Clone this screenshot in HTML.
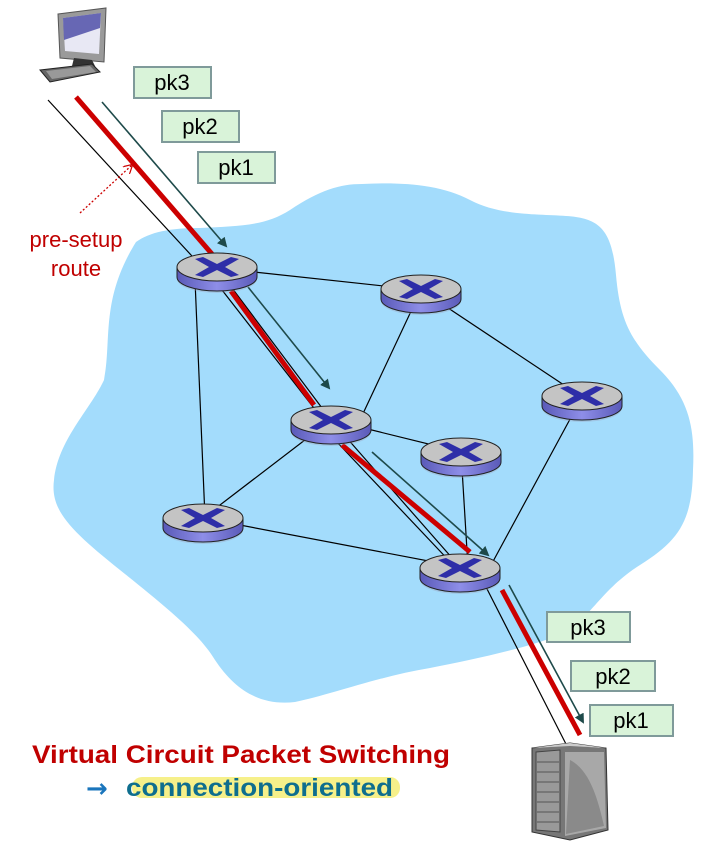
<!DOCTYPE html>
<html><head><meta charset="utf-8"><style>
html,body{margin:0;padding:0;background:#fff;}
svg{display:block;}
</style></head><body>
<svg width="707" height="843" viewBox="0 0 707 843" xmlns="http://www.w3.org/2000/svg">
<defs>
<linearGradient id="side" x1="0" x2="1" y1="0" y2="0">
<stop offset="0" stop-color="#5a5ab8"/><stop offset="0.5" stop-color="#8e8ee8"/><stop offset="1" stop-color="#5a5ab8"/>
</linearGradient>
<g id="rt">
<ellipse cx="0" cy="12" rx="40" ry="14" fill="#9a9ab8" opacity="0.35"/>
<path d="M-40 0 L-40 10 A40 14 0 0 0 40 10 L40 0 Z" fill="url(#side)" stroke="#222" stroke-width="1"/>
<ellipse cx="0" cy="0" rx="40" ry="14" fill="#c4c4c4" stroke="#222" stroke-width="1"/>
<g fill="#2e2ea8">
<polygon points="-22,-8 -14,-10 0,-3 14,-10 22,-8 8,0 22,8 14,10 0,3 -14,10 -22,8 -8,0"/>
</g>
</g>
<marker id="ah" markerWidth="10" markerHeight="10" refX="8" refY="5" orient="auto" markerUnits="userSpaceOnUse">
<path d="M0,0 L10,5 L0,10 Z" fill="#1e4a4a"/>
</marker>
<marker id="ah2" markerWidth="10" markerHeight="10" refX="8" refY="5" orient="auto" markerUnits="userSpaceOnUse">
<path d="M0,0 L9,5 L0,10" fill="none" stroke="#c00" stroke-width="1.2"/>
</marker>
</defs>
<path d="M136,242 C150,232 170,228 200,228 C240,226 265,226 290,210 C320,190 340,184 362,184 C400,182 440,184 470,200 C500,216 540,214 566,216 C600,218 612,230 616,275 C620,320 630,340 660,370 C690,400 695,430 693,470 C692,520 680,540 640,565 C600,590 590,620 560,635 C520,650 470,660 430,668 C380,676 330,695 295,702 C260,706 235,690 215,660 C200,635 170,610 120,570 C70,530 50,510 54,480 C58,440 90,410 104,380 C112,340 100,300 136,242 Z" fill="#a3dcfc"/>
<g stroke="#000" stroke-width="1.2" fill="none">
<line x1="217" y1="268" x2="421" y2="290"/>
<line x1="217" y1="268" x2="331" y2="420"/>
<line x1="195" y1="280" x2="205" y2="518"/>
<line x1="421" y1="290" x2="360" y2="420"/>
<line x1="421" y1="290" x2="582" y2="397"/>
<line x1="582" y1="397" x2="490" y2="567"/>
<line x1="331" y1="420" x2="461" y2="452"/>
<line x1="331" y1="420" x2="203" y2="518"/>
<line x1="331" y1="420" x2="460" y2="567"/>
<line x1="461" y1="452" x2="468" y2="567"/>
<line x1="203" y1="518" x2="460" y2="567"/>
<line x1="48" y1="100" x2="203" y2="268"/>
<line x1="222" y1="290" x2="331" y2="430"/>
<line x1="335" y1="440" x2="455" y2="567"/>
<line x1="485" y1="585" x2="568" y2="748"/>
</g>
<g stroke="#1e4a4a" stroke-width="1.6" fill="none" marker-end="url(#ah)">
<line x1="102" y1="102" x2="226" y2="246"/>
<line x1="248" y1="287" x2="329" y2="388"/>
<line x1="372" y1="452" x2="488" y2="555"/>
<line x1="509" y1="585" x2="583" y2="722"/>
</g>
<g stroke="#cc0000" stroke-width="5" fill="none">
<line x1="76" y1="97" x2="212" y2="254"/>
<line x1="231" y1="291" x2="314" y2="405"/>
<line x1="342" y1="445" x2="470" y2="552"/>
<line x1="502" y1="590" x2="580" y2="735"/>
</g>
<use href="#rt" x="217" y="267"/>
<use href="#rt" x="421" y="289"/>
<use href="#rt" x="582" y="396"/>
<use href="#rt" x="331" y="420"/>
<use href="#rt" x="461" y="452"/>
<use href="#rt" x="203" y="518"/>
<use href="#rt" x="460" y="568"/>
<line x1="80" y1="213" x2="132" y2="165" stroke="#c00" stroke-width="1.3" stroke-dasharray="2,2" marker-end="url(#ah2)"/>
<!-- computer -->
<g>
<polygon points="58,14 106,8 104,62 60,58" fill="#9a9a9a" stroke="#555"/>
<polygon points="63,18 101,13 99,54 65,51" fill="#e8e8f4"/>
<polygon points="63,18 101,13 100,28 64,40" fill="#5050a8" opacity="0.85"/>
<polygon points="74,58 92,60 96,68 72,66" fill="#333"/>
<polygon points="40,70 92,64 100,72 50,82" fill="#666" stroke="#222"/>
<polygon points="46,71 90,66 96,72 52,79" fill="#999"/>
</g>
<!-- server -->
<g>
<polygon points="532,748 570,743 606,748 608,830 570,840 532,832" fill="#777" stroke="#333"/>
<polygon points="536,752 560,750 560,832 536,830" fill="#999" stroke="#444"/>
<g stroke="#555" stroke-width="1">
<line x1="537" y1="762" x2="559" y2="762"/><line x1="537" y1="772" x2="559" y2="772"/>
<line x1="537" y1="782" x2="559" y2="782"/><line x1="537" y1="792" x2="559" y2="792"/>
<line x1="537" y1="802" x2="559" y2="802"/><line x1="537" y1="812" x2="559" y2="812"/>
<line x1="537" y1="822" x2="559" y2="822"/>
</g>
<polygon points="565,752 604,752 606,828 565,836" fill="#a8a8a8"/>
<path d="M570,760 C590,770 598,800 604,826 L566,834 Z" fill="#8a8a8a"/>
<polygon points="532,748 570,743 606,748 570,746" fill="#ccc"/>
</g>
<g font-family="Liberation Sans, sans-serif" font-size="22" fill="#000">
<rect x="134" y="67" width="77" height="31" fill="#d9f3d9" stroke="#7f9a9a" stroke-width="2"/>
<text x="172" y="90" text-anchor="middle">pk3</text>
<rect x="162" y="111" width="77" height="31" fill="#d9f3d9" stroke="#7f9a9a" stroke-width="2"/>
<text x="200" y="134" text-anchor="middle">pk2</text>
<rect x="198" y="152" width="77" height="31" fill="#d9f3d9" stroke="#7f9a9a" stroke-width="2"/>
<text x="236" y="175" text-anchor="middle">pk1</text>
<rect x="547" y="612" width="83" height="30" fill="#d9f3d9" stroke="#7f9a9a" stroke-width="2"/>
<text x="588" y="635" text-anchor="middle">pk3</text>
<rect x="571" y="661" width="84" height="30" fill="#d9f3d9" stroke="#7f9a9a" stroke-width="2"/>
<text x="613" y="684" text-anchor="middle">pk2</text>
<rect x="590" y="705" width="83" height="31" fill="#d9f3d9" stroke="#7f9a9a" stroke-width="2"/>
<text x="631" y="728" text-anchor="middle">pk1</text>
</g>
<g font-family="Liberation Sans, sans-serif" font-size="22" fill="#c00000" text-anchor="middle">
<text x="76" y="247">pre-setup</text>
<text x="76" y="276">route</text>
</g>
<rect x="132" y="777" width="268" height="21" rx="10" fill="#f6f08a"/>
<text x="32" y="763" font-family="Liberation Sans, sans-serif" font-size="25" font-weight="bold" fill="#c00000" textLength="418" lengthAdjust="spacingAndGlyphs">Virtual Circuit Packet Switching</text>
<text x="86" y="797" font-family="DejaVu Sans, sans-serif" font-size="26" font-weight="bold" fill="#1a75bc">→</text>
<text x="126" y="796" font-family="Liberation Sans, sans-serif" font-size="25" font-weight="bold" fill="#0e6e8e" textLength="267" lengthAdjust="spacingAndGlyphs">connection-oriented</text>
</svg>
</body></html>
